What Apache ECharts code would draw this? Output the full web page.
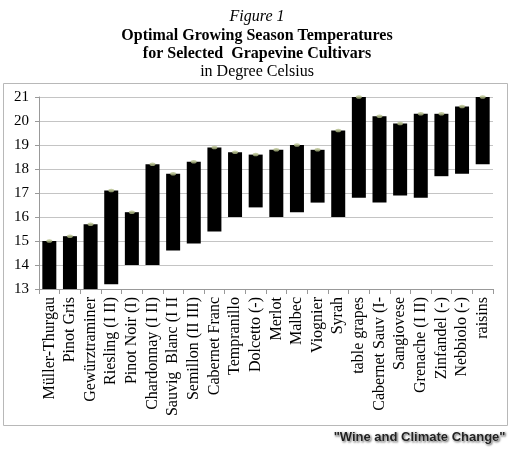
<!DOCTYPE html>
<html>
<head>
<meta charset="utf-8">
<script src="https://cdn.jsdelivr.net/npm/echarts@6/dist/echarts.min.js"></script>
<style>
html,body{margin:0;padding:0;background:#fff;}
#c{width:514px;height:450px;}
</style>
</head>
<body>
<div id="c"></div>
<script>
var categories = ["Müller-Thurgau","Pinot Gris","Gewürztraminer","Riesling (I II)","Pinot Noir (I)","Chardonnay (I II)","Sauvig  Blanc (I II","Semillon (II III)","Cabernet Franc","Tempranillo","Dolcetto (-)","Merlot","Malbec","Viognier","Syrah","table grapes","Cabernet Sauv (I-","Sangiovese","Grenache (I II)","Zinfandel (-)","Nebbiolo (-)","raisins"];
var lows  = [13, 13, 13, 13.2, 14, 14, 14.6, 14.9, 15.4, 16, 16.4, 16, 16.2, 16.6, 16, 16.8, 16.6, 16.9, 16.8, 17.7, 17.8, 18.2];
var highs = [15, 15.2, 15.7, 17.1, 16.2, 18.2, 17.8, 18.3, 18.9, 18.7, 18.6, 18.8, 19.0, 18.8, 19.6, 21.0, 20.2, 19.9, 20.3, 20.3, 20.6, 21.0];
var yTicks = [13,14,15,16,17,18,19,20,21];

var spans = highs.map(function(h,i){ return +(h - lows[i]).toFixed(2); });

var chart = echarts.init(document.getElementById('c'), null, {renderer:'canvas'});
var serif = "'Liberation Serif', 'Times New Roman', serif";
chart.setOption({
  animation: false,
  backgroundColor: '#fff',
  graphic: [
    {type:'rect', shape:{x:3.5,y:83.5,width:504,height:342}, style:{fill:'none', stroke:'#b8b8b8', lineWidth:1}, z:-1},
    {type:'text', left:'center', top:9, style:{text:'Figure 1', font:"italic 16px " + serif, fill:'#000'}},
    {type:'text', left:'center', top:28, style:{text:'Optimal Growing Season Temperatures', font:"bold 16px " + serif, fill:'#000'}},
    {type:'text', left:'center', top:46, style:{text:'for Selected  Grapevine Cultivars', font:"bold 16px " + serif, fill:'#000'}},
    {type:'text', left:'center', top:64, style:{text:'in Degree Celsius', font:"16px " + serif, fill:'#000'}},
    {type:'text', right:8, top:430, style:{text:'"Wine and Climate Change"', font:"bold 13px 'Liberation Sans', Arial, sans-serif", fill:'#222', stroke:'#fff', lineWidth:1, textShadowColor:'rgba(0,0,0,0.35)', textShadowBlur:2, textShadowOffsetX:1, textShadowOffsetY:1}}
  ],
  grid: {left:39, right:21, top:97, bottom:161, containLabel:false},
  xAxis: {
    type:'category',
    data: categories,
    boundaryGap: true,
    axisLine: {show:true, lineStyle:{color:'#999', width:1}},
    axisTick: {show:true, length:5, lineStyle:{color:'#999'}},
    axisLabel: {rotate:90, interval:0, margin:8, fontFamily:serif, fontSize:16, color:'#000'}
  },
  yAxis: {
    type:'value',
    min: yTicks[0],
    max: yTicks[yTicks.length-1],
    interval: 1,
    axisLine: {show:true, lineStyle:{color:'#999', width:1}},
    axisTick: {show:true, length:4, lineStyle:{color:'#999'}},
    axisLabel: {margin:10, fontFamily:serif, fontSize:15, color:'#000'},
    splitLine: {show:true, lineStyle:{color:'#c4c4c4', width:1}}
  },
  series: [
    {type:'bar', stack:'r', data: lows, barWidth:14, itemStyle:{color:'rgba(0,0,0,0)'}, silent:true},
    {type:'bar', stack:'r', data: spans, barWidth:14, itemStyle:{color:'#000'}},
    {type:'scatter', data: highs, symbol:'circle', symbolSize:[6,3.5], itemStyle:{color:'#b3bd88'}, z:5}
  ]
});
</script>
</body>
</html>
